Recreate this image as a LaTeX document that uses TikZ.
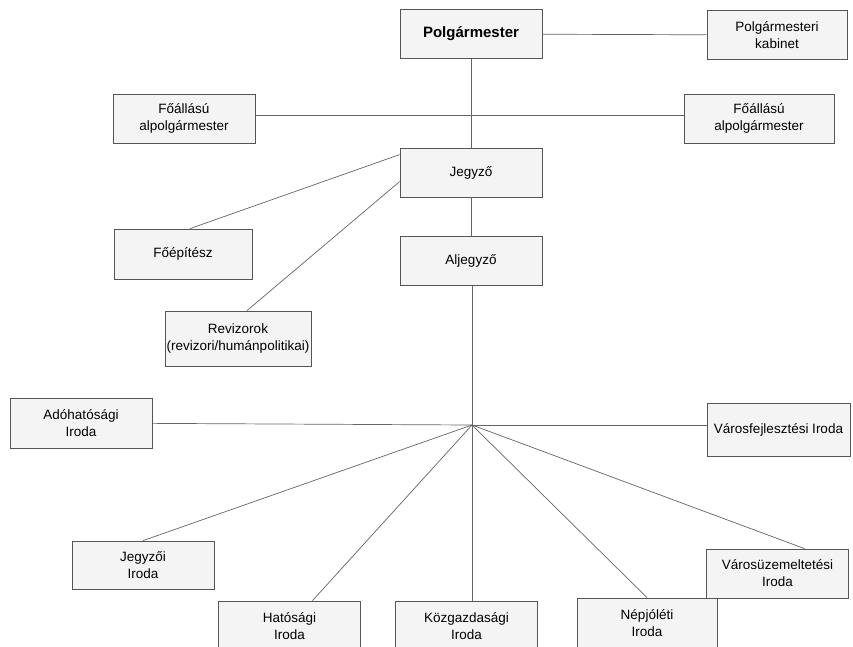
\documentclass[tikz,border=0pt]{standalone}
\usepackage{fontspec}
\setmainfont{Liberation Sans}
\definecolor{boxfill}{RGB}{244,244,244}
\definecolor{boxline}{RGB}{85,85,85}
\definecolor{wire}{RGB}{100,100,100}

\begin{document}
\begin{tikzpicture}[x=1pt,y=-1pt,
	unit/.style={draw=boxline,fill=boxfill,line width=0.8pt,minimum width=142pt,minimum height=49pt,inner sep=1pt,align=center,font=\fontsize{13.5}{17}\selectfont},
	link/.style={draw=wire,line width=0.7pt}]
	\useasboundingbox[fill=white] (0,0) rectangle (853,646);
	\node[unit,font=\fontsize{15}{17}\selectfont\bfseries] (polg) at (471,34) {Polgármester};
	\node[unit,minimum width=140pt] (kab) at (777,35) {Polgármesteri\\kabinet};
	\node[unit] (alpl) at (184,118.5) {Főállású\\alpolgármester};
	\node[unit,minimum width=150pt] (alpr) at (759,118.5) {Főállású\\alpolgármester};
	\node[unit] (jegyzo) at (471,172.5) {Jegyző};
	\node[unit] (aljegyzo) at (471,261) {Aljegyző};
	\node[unit,minimum width=138pt,minimum height=50pt] (foep) at (183,254) {Főépítész};
	\node[unit,minimum width=146pt,minimum height=55pt] (reviz) at (238,338.5) {Revizorok\\(revizori/humánpolitikai)};
	\node[unit,minimum height=50pt] (ado) at (81,423) {Adóhatósági\\Iroda};
	\node[unit,minimum width=143pt,minimum height=53pt] (vfejl) at (778.5,429.5) {Városfejlesztési Iroda};
	\node[unit,minimum height=48pt] (jiroda) at (143,565) {Jegyzői\\Iroda};
	\node[unit,minimum height=50pt] (hat) at (289.5,626) {Hatósági\\Iroda};
	\node[unit,minimum height=50pt] (kozg) at (466.5,626) {Közgazdasági\\Iroda};
	\node[unit,minimum width=140pt,minimum height=50pt] (nepj) at (647,623) {Népjóléti\\Iroda};
	\node[unit] (vuzem) at (777.5,573.5) {Városüzemeltetési\\Iroda};
	\coordinate (hub) at (472,425);
	\draw[link] (polg) -- (kab);
	\draw[link] (polg) -- (jegyzo);
	\draw[link] ([yshift=3pt]alpl.east) -- ([yshift=3pt]alpr.west);
	\draw[link] (jegyzo) -- (aljegyzo);
	\draw[link] (aljegyzo.south -| hub) -- (hub);
	\draw[link] ([yshift=-7pt]jegyzo.north west) -- ([xshift=7pt]foep.north);
	\draw[link] ([yshift=-34pt]jegyzo.north west) -- ([xshift=9pt]reviz.north);
	\draw[link] (hub) -- (ado);
	\draw[link] (hub) -- (hub -| vfejl.west);
	\draw[link] (hub) -- (jiroda.north);
	\draw[link] (hub) -- ([xshift=23pt]hat.north);
	\draw[link] (hub) -- (hub |- kozg.north);
	\draw[link] (hub) -- (nepj.north);
	\draw[link] (hub) -- ([xshift=27pt]vuzem.north);
\end{tikzpicture}
\end{document}
